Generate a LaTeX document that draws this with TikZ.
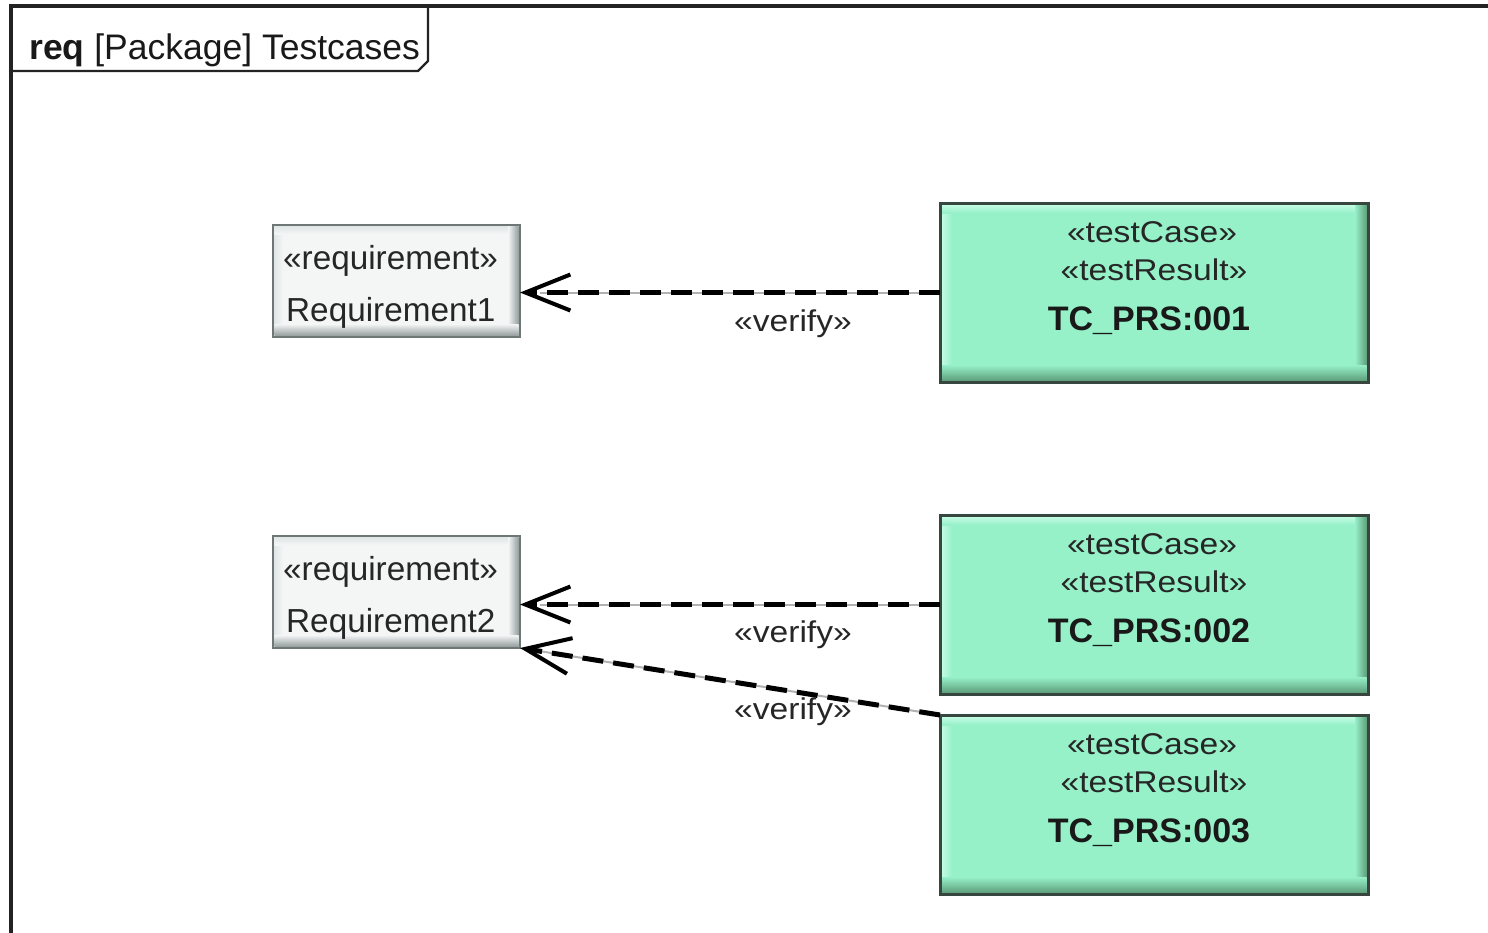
\documentclass[tikz,border=0pt]{standalone}
\usepackage{fontspec}
\setmainfont{Liberation Sans}
\newfontfamily\umlfont[FakeStretch=1.12]{Liberation Sans}
\usetikzlibrary{arrows.meta,calc}

\definecolor{mint}{RGB}{150,240,200}
\definecolor{mintdark}{RGB}{95,160,125}
\definecolor{mintlight}{RGB}{195,252,228}
\definecolor{mintline}{RGB}{55,70,62}
\definecolor{reqfill}{RGB}{244,246,246}
\definecolor{reqdark}{RGB}{150,158,158}
\definecolor{reqlight}{RGB}{225,230,230}
\definecolor{reqline}{RGB}{110,118,118}
\definecolor{frameline}{RGB}{35,35,35}

\tikzset{
  frame/.style={draw=frameline, line width=3.5pt},
  tabline/.style={draw=frameline, line width=2.4pt, line join=round},
  titletext/.style={font=\fontsize{35.5}{42}\selectfont, inner sep=0pt, text=black!90},
  tcbox/.style={fill=mint, minimum width=428pt, minimum height=179pt,
    inner sep=0pt, outer sep=0pt},
  reqbox/.style={fill=reqfill, minimum width=247pt, minimum height=112pt,
    inner sep=0pt, outer sep=0pt},
  stereo/.style={font=\umlfont\fontsize{30}{36}\selectfont, inner sep=0pt, text=black!85},
  reqtext/.style={font=\fontsize{33.3}{38}\selectfont, inner sep=0pt, text=black!85},
  tcname/.style={font=\bfseries\fontsize{34}{40}\selectfont, inner sep=0pt, text=black!90},
  vlabel/.style={font=\umlfont\fontsize{30}{36}\selectfont, inner sep=0pt, text=black!85},
  verifybase/.style={draw=black!30, line width=2pt},
  verify/.style={draw=black, line width=5pt, dash pattern=on 21pt off 10pt,
    -{Straight Barb[length=45pt,width=36pt,line width=4pt]}},
}

% A test case block with a bevelled green body
\newcommand\testcasebox[3]{%
  \node[tcbox, anchor=north west] (#1) at (940,#2) {};
  \shade[left color=mintlight, right color=mint]
    ([shift={(1.5pt,-1.5pt)}]#1.north west) rectangle ([shift={(12pt,1.5pt)}]#1.south west);
  \shade[top color=mintlight, bottom color=mint]
    ([shift={(1.5pt,-1.5pt)}]#1.north west) rectangle ([shift={(-1.5pt,-10pt)}]#1.north east);
  \shade[left color=mint, right color=mintdark]
    ([shift={(-13pt,-1.5pt)}]#1.north east) rectangle ([shift={(-1.5pt,1.5pt)}]#1.south east);
  \shade[top color=mint, bottom color=mintdark]
    ([shift={(1.5pt,17pt)}]#1.south west) rectangle ([shift={(-1.5pt,1.5pt)}]#1.south east);
  \draw[draw=mintline, line width=3pt] (#1.south west) rectangle (#1.north east);
  \node[stereo, anchor=base] (#1-st1) at (1152,#2+39) {«testCase»};
  \node[stereo, anchor=base] (#1-st2) at (1154,#2+77) {«testResult»};
  \node[tcname, anchor=base] (#1-name) at (1149,#2+127) {TC\_PRS:#3};
}

% A requirement block with a bevelled grey body
\newcommand\requirementbox[3]{%
  \node[reqbox, anchor=north west] (#1) at (273,#2) {};
  \shade[left color=reqlight, right color=reqfill]
    ([shift={(1.5pt,-1.5pt)}]#1.north west) rectangle ([shift={(10pt,1.5pt)}]#1.south west);
  \shade[top color=reqlight, bottom color=reqfill]
    ([shift={(1.5pt,-1.5pt)}]#1.north west) rectangle ([shift={(-1.5pt,-9pt)}]#1.north east);
  \shade[left color=reqfill, right color=reqdark]
    ([shift={(-12pt,-1.5pt)}]#1.north east) rectangle ([shift={(-1.5pt,1.5pt)}]#1.south east);
  \shade[top color=reqfill, bottom color=reqdark]
    ([shift={(1.5pt,13pt)}]#1.south west) rectangle ([shift={(-1.5pt,1.5pt)}]#1.south east);
  \draw[draw=reqline, line width=2.5pt] (#1.south west) rectangle (#1.north east);
  \node[reqtext, anchor=base west] (#1-st) at (283,#2+44) {«requirement»};
  \node[reqtext, anchor=base west] (#1-name) at (286,#2+96) {Requirement#3};
}

\begin{document}
\begin{tikzpicture}[x=1pt, y=-1pt]
  \useasboundingbox (0,0) rectangle (1488,932);
  \clip (0,0) rectangle (1488,932);
  \fill[white] (0,0) rectangle (1488,932);

  % diagram frame and its name tab
  \coordinate (frameTL) at (11,6);
  \coordinate (frameBL) at (11,960);
  \coordinate (frameTR) at (1510,6);
  \draw[frame] (frameBL) -- (frameTL) -- (frameTR);
  \coordinate (tabA) at (11,71);
  \coordinate (tabB) at (418,71);
  \coordinate (tabC) at (428,61);
  \coordinate (tabD) at (428,6);
  \draw[tabline] (tabA) -- (tabB) -- (tabC) -- (tabD);
  \node[titletext, anchor=base west] (title) at (29,59) {\textbf{req} [Package] Testcases};

  % requirements
  \requirementbox{req1}{225}{1}
  \requirementbox{req2}{536}{2}

  % test cases
  \testcasebox{tc1}{203}{001}
  \testcasebox{tc2}{515}{002}
  \testcasebox{tc3}{715}{003}

  % verify dependencies
  \coordinate (r1in) at (req1.east |- tc1.west);
  \coordinate (r2in) at (req2.east |- tc2.west);
  \draw[verifybase] (tc1.west) -- ([xshift=20pt]r1in);
  \draw[verifybase] (tc2.west) -- ([xshift=20pt]r2in);
  \draw[verifybase] (tc3.north west) -- ($(req2.south east)!0.05!(tc3.north west)$);
  \draw[verify] (tc1.west) -- (r1in);
  \draw[verify] (tc2.west) -- (r2in);
  \draw[verify] (tc3.north west) -- (req2.south east);

  \node[vlabel, anchor=base] (v1) at (793,331) {«verify»};
  \node[vlabel, anchor=base] (v2) at (793,642) {«verify»};
  \node[vlabel, anchor=base] (v3) at (793,719) {«verify»};
\end{tikzpicture}
\end{document}
